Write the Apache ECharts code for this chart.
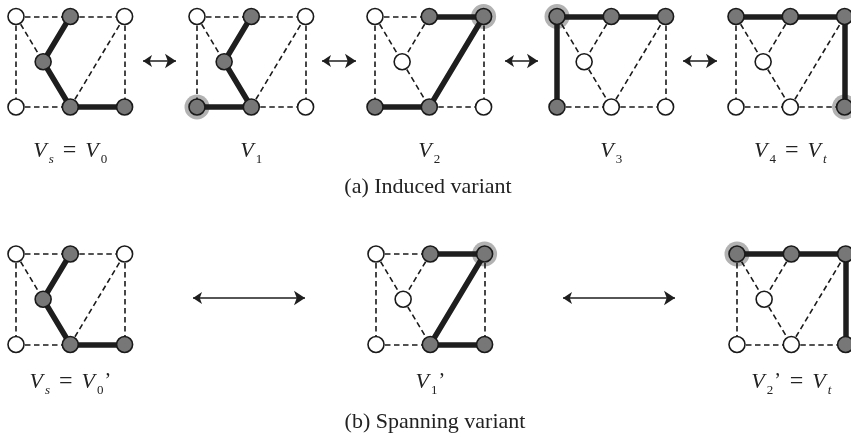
<!DOCTYPE html>
<html><head><meta charset="utf-8">
<script src="https://cdn.jsdelivr.net/npm/echarts@6/dist/echarts.min.js"></script>
<style>html,body{margin:0;padding:0;background:#fff}#c{width:851px;height:441px}</style>
</head><body><div id="c"></div>
<script>
// ---- graph structure (unit grid coordinates) ----
const nodeNames = ['A', 'B', 'C', 'D', 'E', 'F', 'G'];
const nodeUnitX = [0, 1, 2, 0, 1, 2, 0.5];
const nodeUnitY = [0, 0, 0, 1, 1, 1, 0.5];
const edges = [['A','B'],['B','C'],['A','D'],['C','F'],['D','E'],['E','F'],['A','G'],['B','G'],['G','E'],['E','C']];

// ---- panels (token configurations) ----
const panelRow = [0, 0, 0, 0, 0, 1, 1, 1];
const panelGray = [
  ['B','G','E','F'], ['B','G','D','E'], ['B','C','D','E'], ['A','B','C','D'], ['A','B','C','F'],
  ['B','G','E','F'], ['B','C','E','F'], ['A','B','C','F']
];
const panelThick = [
  [['B','G'],['G','E'],['E','F']],
  [['B','G'],['G','E'],['D','E']],
  [['B','C'],['C','E'],['D','E']],
  [['A','B'],['B','C'],['A','D']],
  [['A','B'],['B','C'],['C','F']],
  [['B','G'],['G','E'],['E','F']],
  [['B','C'],['C','E'],['E','F']],
  [['A','B'],['B','C'],['C','F']]
];
const panelHalo = [null, 'D', 'C', 'A', 'F', null, 'C', 'A'];
const panelLabels = [
  [['V','s'],['V','0']],
  [['V','1']],
  [['V','2']],
  [['V','3']],
  [['V','4'],['V','t']],
  [['V','s'],['V','0','’']],
  [['V','1','’']],
  [['V','2','’'],['V','t']]
];
const captions = ['(a) Induced variant', '(b) Spanning variant'];

// ---- layout (pixels) ----
const W = 851, H = 441;
const panelX = [16, 197, 375, 557, 736, 16, 376, 737];
const rowY = [16.5, 254];
const stepX = 54.3, stepY = 90.5;
const labelY = [151, 382];
const captionX = [428, 435];
const captionY = [187, 422];
const arrowRows = [0, 0, 0, 0, 1, 1];
const arrowX = [[143,176],[322,356],[505,538],[683,717],[193,305],[563,675]];
const arrowY = [61, 298];

function pos(p, n) {
  const i = nodeNames.indexOf(n);
  return [panelX[p] + nodeUnitX[i] * stepX, rowY[panelRow[p]] + nodeUnitY[i] * stepY];
}
const key = (a, b) => [a, b].sort().join('-');

const dashedData = [], thickData = [], grayData = [], whiteData = [], haloData = [];
panelX.forEach((_, p) => {
  const thickSet = new Set(panelThick[p].map(e => key(e[0], e[1])));
  edges.forEach(e => {
    const d = { coords: [pos(p, e[0]), pos(p, e[1])] };
    (thickSet.has(key(e[0], e[1])) ? thickData : dashedData).push(d);
  });
  nodeNames.forEach(n => {
    (panelGray[p].includes(n) ? grayData : whiteData).push(pos(p, n));
  });
  if (panelHalo[p]) haloData.push(pos(p, panelHalo[p]));
});
const arrowData = arrowX.map((x, i) => ({ coords: [[x[0], arrowY[arrowRows[i]]], [x[1], arrowY[arrowRows[i]]]] }));

const SERIF = '"Liberation Serif","DejaVu Serif",serif';
const INK = '#222';
const rich = {
  v: { fontFamily: SERIF, fontStyle: 'italic', fontSize: 22, lineHeight: 30, verticalAlign: 'middle', fill: INK, color: INK },
  s: { fontFamily: SERIF, fontStyle: 'italic', fontSize: 13, lineHeight: 12, verticalAlign: 'bottom', padding: [0, 0, 0, 2], fill: INK, color: INK },
  n: { fontFamily: SERIF, fontSize: 13, lineHeight: 12, verticalAlign: 'bottom', padding: [0, 0, 0, 2], fill: INK, color: INK },
  q: { fontFamily: SERIF, fontSize: 20, lineHeight: 30, verticalAlign: 'middle', padding: [0, 0, 0, 1], fill: INK, color: INK },
  e: { fontFamily: SERIF, fontSize: 24, lineHeight: 30, verticalAlign: 'middle', padding: [0, 3, 0, 3], fill: INK, color: INK }
};
function labelText(parts) {
  return parts.map(pt => {
    const sub = /[0-9]/.test(pt[1]) ? 'n' : 's';
    return '{v|' + pt[0] + '}{' + sub + '|' + pt[1] + '}' + (pt[2] ? '{q|' + pt[2] + '}' : '');
  }).join('{e| = }');
}
const graphics = [];
panelLabels.forEach((parts, p) => {
  graphics.push({
    type: 'text', x: panelX[p] + stepX, y: labelY[panelRow[p]],
    style: { text: labelText(parts), rich: rich, align: 'center', verticalAlign: 'middle', fill: INK }
  });
});
captions.forEach((c, i) => {
  graphics.push({
    type: 'text', x: captionX[i], y: captionY[i],
    style: { text: c, fontFamily: SERIF, fontSize: 22, fill: INK, align: 'center', verticalAlign: 'middle' }
  });
});

const chart = echarts.init(document.getElementById('c'), null, { renderer: 'canvas' });
chart.setOption({
  animation: false,
  grid: { left: 0, right: 0, top: 0, bottom: 0 },
  xAxis: { type: 'value', min: 0, max: W, show: false },
  yAxis: { type: 'value', min: 0, max: H, inverse: true, show: false },
  series: [
    { type: 'scatter', z: 1, symbolSize: 25, data: haloData, itemStyle: { color: '#b2b2b2', opacity: 1 }, silent: true },
    { type: 'lines', coordinateSystem: 'cartesian2d', z: 2, data: dashedData, symbol: 'none',
      lineStyle: { color: '#1a1a1a', width: 1.6, type: [5.5, 3.5], opacity: 1 } },
    { type: 'lines', coordinateSystem: 'cartesian2d', z: 3, data: thickData, symbol: 'none',
      lineStyle: { color: '#1e1e1e', width: 5.5, opacity: 1, cap: 'round' } },
    { type: 'scatter', z: 4, symbolSize: 16, data: whiteData,
      itemStyle: { color: '#ffffff', borderColor: '#1a1a1a', borderWidth: 1.6, opacity: 1 } },
    { type: 'scatter', z: 4, symbolSize: 16, data: grayData,
      itemStyle: { color: '#777777', borderColor: '#1a1a1a', borderWidth: 1.6, opacity: 1 } },
    { type: 'lines', coordinateSystem: 'cartesian2d', z: 5, data: arrowData,
      symbol: ['arrow', 'arrow'], symbolSize: [9, 11],
      lineStyle: { color: '#1e1e1e', width: 1.6, opacity: 1 } }
  ],
  graphic: graphics
});
</script></body></html>
